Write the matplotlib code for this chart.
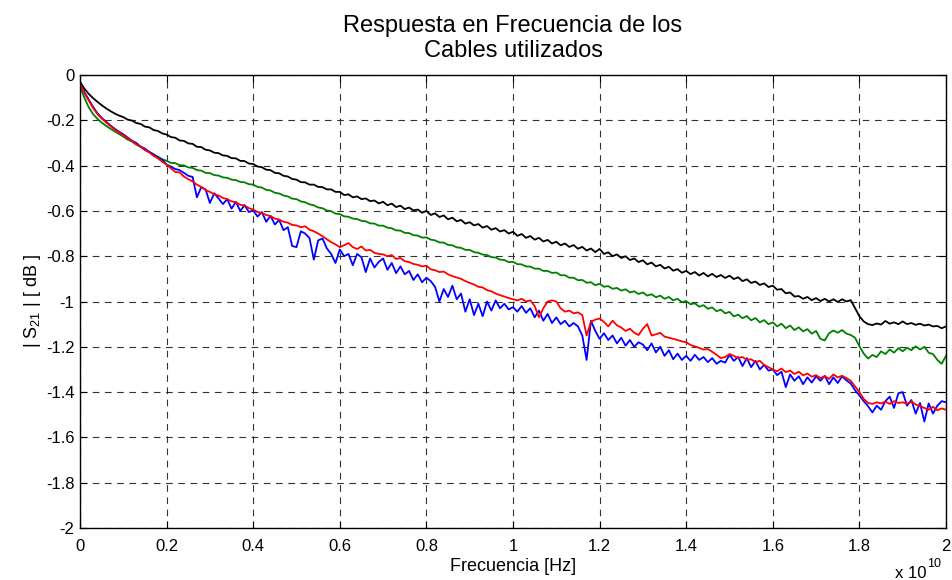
import numpy as np
import matplotlib
matplotlib.use("Agg")
import matplotlib.pyplot as plt

plt.rcParams['font.family'] = ['Liberation Sans', 'DejaVu Sans']
plt.rcParams['mathtext.fontset'] = 'custom'
plt.rcParams['mathtext.rm'] = 'Liberation Sans'
plt.rcParams['mathtext.default'] = 'regular'
plt.rcParams['axes.unicode_minus'] = False

# Frequency sweep: 0 .. 20 GHz, 201 points
freq_hz = np.linspace(0, 2e10, 201)

# |S21| in dB for each cable
black_db = [
    -0.030, -0.060, -0.083, -0.102, -0.118, -0.133, -0.147, -0.159, -0.170, -0.179,
    -0.186, -0.197, -0.201, -0.212, -0.216, -0.228, -0.231, -0.243, -0.247, -0.258,
    -0.263, -0.274, -0.277, -0.289, -0.291, -0.302, -0.304, -0.317, -0.318, -0.330,
    -0.333, -0.343, -0.345, -0.355, -0.357, -0.367, -0.368, -0.379, -0.380, -0.391,
    -0.393, -0.404, -0.407, -0.418, -0.420, -0.432, -0.434, -0.445, -0.448, -0.459,
    -0.462, -0.473, -0.474, -0.484, -0.484, -0.494, -0.495, -0.505, -0.505, -0.516,
    -0.516, -0.530, -0.527, -0.540, -0.536, -0.548, -0.545, -0.557, -0.554, -0.567,
    -0.560, -0.575, -0.568, -0.583, -0.577, -0.592, -0.585, -0.598, -0.594, -0.608,
    -0.600, -0.618, -0.611, -0.627, -0.620, -0.637, -0.630, -0.646, -0.640, -0.656,
    -0.650, -0.664, -0.658, -0.674, -0.667, -0.683, -0.676, -0.691, -0.685, -0.700,
    -0.692, -0.710, -0.702, -0.719, -0.711, -0.727, -0.719, -0.735, -0.728, -0.744,
    -0.736, -0.752, -0.744, -0.759, -0.751, -0.767, -0.759, -0.775, -0.766, -0.782,
    -0.768, -0.790, -0.783, -0.800, -0.792, -0.808, -0.800, -0.817, -0.810, -0.826,
    -0.818, -0.836, -0.828, -0.845, -0.838, -0.854, -0.847, -0.864, -0.857, -0.873,
    -0.865, -0.879, -0.870, -0.885, -0.874, -0.889, -0.878, -0.892, -0.883, -0.896,
    -0.886, -0.901, -0.893, -0.910, -0.902, -0.918, -0.912, -0.927, -0.920, -0.936,
    -0.930, -0.948, -0.945, -0.964, -0.960, -0.978, -0.976, -0.988, -0.980, -0.994,
    -0.985, -0.998, -0.988, -1.000, -0.990, -1.002, -0.990, -1.000, -0.994, -1.030,
    -1.065, -1.088, -1.100, -1.104, -1.097, -1.102, -1.086, -1.098, -1.092, -1.100,
    -1.088, -1.100, -1.095, -1.103, -1.098, -1.106, -1.102, -1.110, -1.108, -1.118,
    -1.110,
]

green_db = [
    -0.050, -0.100, -0.142, -0.172, -0.193, -0.210, -0.224, -0.237, -0.249, -0.260,
    -0.272, -0.285, -0.294, -0.307, -0.317, -0.331, -0.339, -0.352, -0.360, -0.372,
    -0.379, -0.388, -0.389, -0.398, -0.399, -0.408, -0.410, -0.420, -0.422, -0.432,
    -0.433, -0.442, -0.444, -0.452, -0.454, -0.462, -0.464, -0.472, -0.474, -0.482,
    -0.484, -0.494, -0.497, -0.507, -0.510, -0.520, -0.523, -0.532, -0.536, -0.546,
    -0.548, -0.558, -0.562, -0.571, -0.575, -0.585, -0.588, -0.598, -0.601, -0.612,
    -0.614, -0.624, -0.626, -0.634, -0.636, -0.644, -0.646, -0.655, -0.656, -0.665,
    -0.665, -0.674, -0.677, -0.686, -0.687, -0.697, -0.698, -0.707, -0.709, -0.718,
    -0.717, -0.727, -0.730, -0.739, -0.740, -0.750, -0.752, -0.761, -0.763, -0.772,
    -0.772, -0.782, -0.785, -0.793, -0.795, -0.804, -0.806, -0.815, -0.817, -0.826,
    -0.825, -0.835, -0.836, -0.845, -0.846, -0.855, -0.855, -0.865, -0.865, -0.874,
    -0.872, -0.884, -0.884, -0.895, -0.895, -0.906, -0.905, -0.917, -0.915, -0.928,
    -0.922, -0.935, -0.932, -0.944, -0.940, -0.952, -0.946, -0.960, -0.955, -0.967,
    -0.960, -0.974, -0.968, -0.981, -0.974, -0.988, -0.980, -0.995, -0.988, -1.003,
    -0.998, -1.012, -1.008, -1.023, -1.016, -1.032, -1.026, -1.043, -1.036, -1.052,
    -1.046, -1.066, -1.058, -1.074, -1.064, -1.083, -1.073, -1.092, -1.082, -1.100,
    -1.092, -1.110, -1.098, -1.118, -1.106, -1.126, -1.114, -1.132, -1.122, -1.142,
    -1.130, -1.165, -1.172, -1.140, -1.128, -1.138, -1.126, -1.142, -1.148, -1.160,
    -1.198, -1.230, -1.252, -1.236, -1.245, -1.220, -1.232, -1.212, -1.226, -1.206,
    -1.220, -1.204, -1.215, -1.198, -1.212, -1.200, -1.226, -1.232, -1.258, -1.275,
    -1.240,
]

red_db = [
    -0.040, -0.080, -0.112, -0.145, -0.172, -0.192, -0.209, -0.225, -0.240, -0.253,
    -0.266, -0.280, -0.291, -0.306, -0.317, -0.331, -0.342, -0.357, -0.368, -0.383,
    -0.396, -0.412, -0.428, -0.430, -0.448, -0.460, -0.470, -0.484, -0.494, -0.508,
    -0.516, -0.527, -0.532, -0.543, -0.548, -0.558, -0.562, -0.573, -0.576, -0.588,
    -0.594, -0.605, -0.609, -0.618, -0.623, -0.634, -0.638, -0.648, -0.652, -0.662,
    -0.664, -0.672, -0.668, -0.683, -0.690, -0.700, -0.712, -0.725, -0.738, -0.748,
    -0.760, -0.752, -0.742, -0.760, -0.768, -0.757, -0.775, -0.772, -0.785, -0.790,
    -0.792, -0.800, -0.795, -0.812, -0.808, -0.822, -0.826, -0.834, -0.838, -0.845,
    -0.842, -0.858, -0.862, -0.870, -0.868, -0.880, -0.888, -0.894, -0.900, -0.910,
    -0.918, -0.925, -0.935, -0.938, -0.950, -0.955, -0.965, -0.972, -0.978, -0.985,
    -0.990, -0.995, -0.988, -1.000, -0.995, -1.020, -1.070, -1.030, -1.000, -0.995,
    -1.000, -1.030, -1.045, -1.040, -1.052, -1.048, -1.060, -1.150, -1.090, -1.080,
    -1.075, -1.090, -1.110, -1.085, -1.105, -1.115, -1.130, -1.120, -1.138, -1.148,
    -1.120, -1.100, -1.150, -1.145, -1.138, -1.155, -1.160, -1.165, -1.170, -1.176,
    -1.180, -1.192, -1.198, -1.205, -1.212, -1.210, -1.222, -1.235, -1.250, -1.245,
    -1.232, -1.240, -1.250, -1.245, -1.258, -1.255, -1.268, -1.262, -1.280, -1.290,
    -1.300, -1.308, -1.296, -1.312, -1.305, -1.320, -1.310, -1.326, -1.318, -1.332,
    -1.325, -1.338, -1.330, -1.342, -1.322, -1.335, -1.328, -1.338, -1.350, -1.375,
    -1.400, -1.430, -1.448, -1.452, -1.445, -1.450, -1.442, -1.452, -1.440, -1.448,
    -1.445, -1.452, -1.440, -1.455, -1.462, -1.470, -1.478, -1.465, -1.480, -1.472,
    -1.478,
]

blue_db = [
    -0.035, -0.075, -0.108, -0.140, -0.168, -0.189, -0.206, -0.222, -0.237, -0.250,
    -0.262, -0.276, -0.290, -0.300, -0.316, -0.325, -0.340, -0.350, -0.366, -0.375,
    -0.395, -0.405, -0.415, -0.420, -0.432, -0.445, -0.450, -0.540, -0.495, -0.505,
    -0.565, -0.522, -0.545, -0.570, -0.548, -0.590, -0.560, -0.600, -0.575, -0.605,
    -0.598, -0.625, -0.605, -0.648, -0.622, -0.660, -0.640, -0.685, -0.672, -0.755,
    -0.760, -0.690, -0.700, -0.720, -0.815, -0.730, -0.722, -0.765, -0.790, -0.830,
    -0.770, -0.800, -0.790, -0.840, -0.790, -0.805, -0.870, -0.810, -0.850, -0.825,
    -0.810, -0.860, -0.830, -0.875, -0.845, -0.880, -0.865, -0.905, -0.880, -0.915,
    -0.895, -0.910, -0.935, -1.000, -0.945, -0.980, -0.930, -0.990, -0.965, -1.045,
    -0.990, -1.060, -1.010, -1.065, -1.000, -1.040, -0.995, -1.030, -1.010, -1.035,
    -1.025, -1.045, -1.020, -1.050, -1.030, -1.070, -1.040, -1.085, -1.055, -1.095,
    -1.070, -1.100, -1.085, -1.110, -1.095, -1.110, -1.150, -1.258, -1.085, -1.130,
    -1.165, -1.140, -1.170, -1.150, -1.185, -1.160, -1.195, -1.170, -1.200, -1.180,
    -1.190, -1.215, -1.185, -1.225, -1.200, -1.240, -1.215, -1.255, -1.230, -1.258,
    -1.240, -1.262, -1.235, -1.258, -1.245, -1.268, -1.250, -1.275, -1.262, -1.270,
    -1.235, -1.262, -1.245, -1.285, -1.250, -1.290, -1.262, -1.300, -1.280, -1.305,
    -1.300, -1.325, -1.310, -1.378, -1.322, -1.350, -1.330, -1.365, -1.335, -1.358,
    -1.330, -1.350, -1.328, -1.365, -1.335, -1.360, -1.330, -1.348, -1.362, -1.392,
    -1.415, -1.440, -1.462, -1.490, -1.460, -1.478, -1.440, -1.420, -1.470, -1.405,
    -1.400, -1.460, -1.435, -1.495, -1.448, -1.530, -1.450, -1.495, -1.460, -1.440,
    -1.445,
]

x_tick_values = [0, 0.2e10, 0.4e10, 0.6e10, 0.8e10, 1.0e10, 1.2e10, 1.4e10, 1.6e10, 1.8e10, 2.0e10]
x_tick_labels = ["0", "0.2", "0.4", "0.6", "0.8", "1", "1.2", "1.4", "1.6", "1.8", "2"]
y_tick_values = [0, -0.2, -0.4, -0.6, -0.8, -1.0, -1.2, -1.4, -1.6, -1.8, -2.0]
y_tick_labels = ["0", "-0.2", "-0.4", "-0.6", "-0.8", "-1", "-1.2", "-1.4", "-1.6", "-1.8", "-2"]

W, H = 952, 580
fig = plt.figure(figsize=(W / 100, H / 100), dpi=100)
ax = fig.add_axes([80 / W, 1 - 528 / H, (946 - 80) / W, (528 - 75) / H])

lw = 1.3
ax.plot(freq_hz, black_db, color="#000000", lw=lw)
ax.plot(freq_hz, green_db, color="#008000", lw=lw)
ax.plot(freq_hz, blue_db, color="#0000ff", lw=lw)
ax.plot(freq_hz, red_db, color="#ff0000", lw=lw)

ax.set_xlim(0, 2e10)
ax.set_ylim(-2, 0)
ax.set_xticks(x_tick_values)
ax.set_xticklabels(x_tick_labels)
ax.set_yticks(y_tick_values)
ax.set_yticklabels(y_tick_labels)

ax.tick_params(direction="in", length=5, width=0.8, top=True, right=True,
               labelsize=12)
ax.tick_params(axis="x", pad=8)
ax.tick_params(axis="y", pad=4)
ax.grid(True, color="#333333", linestyle=(0, (6, 5)), linewidth=0.8)
for sp in ax.spines.values():
    sp.set_linewidth(1.0)
    sp.set_color("black")

ax.set_xlabel("Frecuencia [Hz]", fontsize=13, labelpad=3)
ax.set_ylabel(r"| S$_{21}$ | [ dB ]", fontsize=13, labelpad=2)
ax.set_title("Respuesta en Frecuencia de los\nCables utilizados", fontsize=17,
             pad=13, linespacing=1.2)

# exponent of the frequency axis
fig.text(895 / W, 1 - 578 / H, "x 10", fontsize=12, ha="left", va="baseline")
fig.text(927 / W, 1 - 567 / H, "10", fontsize=9, ha="left", va="baseline")

fig.savefig("out.png", dpi=100)
